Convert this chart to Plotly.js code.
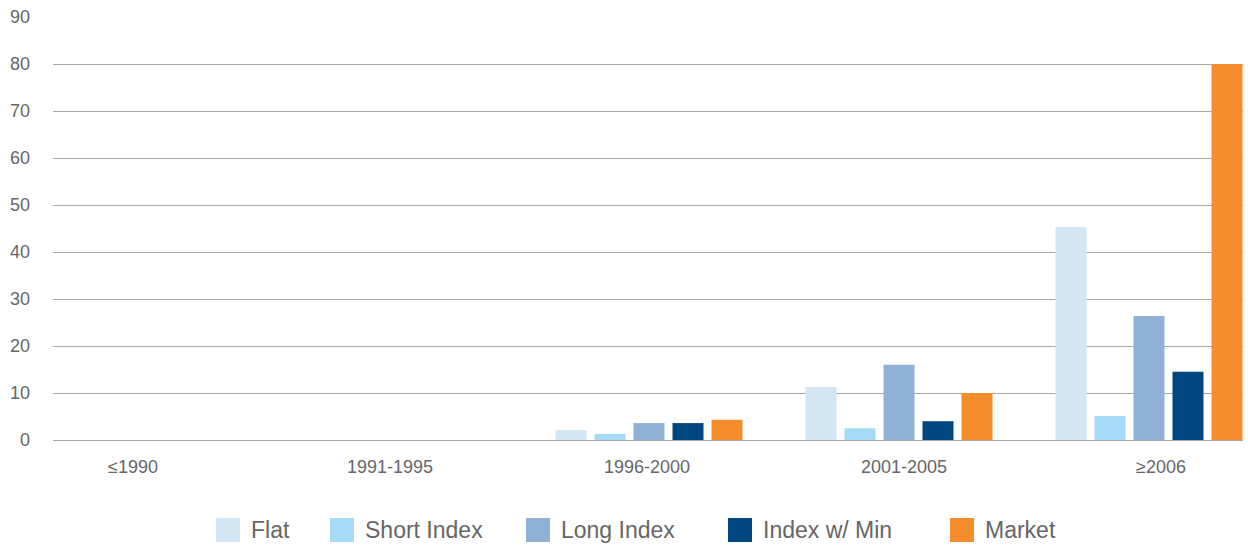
<!DOCTYPE html>
<html>
<head>
<meta charset="utf-8">
<script src="https://cdn.plot.ly/plotly-3.0.1.min.js"></script>
<style>html,body{margin:0;padding:0;background:#fff;}#chart{width:1248px;height:545px;}</style>
</head>
<body>
<div id="chart"></div>
<script>
const categories = ['≤1990', '1991-1995', '1996-2000', '2001-2005', '≥2006'];
const seriesNames = ['Flat', 'Short Index', 'Long Index', 'Index w/ Min', 'Market'];
const flat = [0, 0, 2.1, 11.3, 45.3];
const shortIndex = [0, 0, 1.3, 2.5, 5.1];
const longIndex = [0, 0, 3.6, 16, 26.4];
const indexWMin = [0, 0, 3.6, 4, 14.5];
const market = [0, 0, 4.3, 10, 80];
const yTicks = [0, 10, 20, 30, 40, 50, 60, 70, 80, 90];
const colors = ['#d2e7f3', '#a7daf6', '#91b0d6', '#004680', '#f68d2d'];

const seriesValues = [flat, shortIndex, longIndex, indexWMin, market];

const W = 1248, H = 545;
const M = {l: 53, r: 5, t: 17, b: 105};
const plotW = W - M.l - M.r, plotH = H - M.t - M.b;
const px2x = p => (p - M.l) / plotW;
const px2y = p => (H - M.b - p) / plotH;

const traces = seriesNames.map((name, i) => ({
  type: 'bar',
  name: name,
  x: categories,
  y: seriesValues[i],
  marker: {color: colors[i], line: {width: 0}},
  showlegend: false,
  hoverinfo: 'x+y+name'
}));
// empty helper trace so the label axis is drawn
traces.push({type: 'scatter', x: [], y: [], xaxis: 'x2', yaxis: 'y', showlegend: false, hoverinfo: 'skip'});

// Manual legend (large swatches)
const legendSwatchLeft = [216, 330, 526, 728, 950];
const shapes = [];
const annotations = [];
seriesNames.forEach((name, i) => {
  const x0 = legendSwatchLeft[i];
  shapes.push({
    type: 'rect', xref: 'paper', yref: 'paper',
    x0: px2x(x0), x1: px2x(x0 + 24),
    y0: px2y(542), y1: px2y(518),
    fillcolor: colors[i], line: {width: 0}, layer: 'above'
  });
  annotations.push({
    xref: 'paper', yref: 'paper',
    x: px2x(x0 + 33), y: px2y(530),
    xanchor: 'left', yanchor: 'middle',
    text: name, showarrow: false,
    font: {family: 'Liberation Sans, Arial, sans-serif', size: 23, color: '#666666'}
  });
});

const layout = {
  width: W, height: H,
  margin: M,
  paper_bgcolor: '#ffffff',
  plot_bgcolor: '#ffffff',
  barmode: 'group',
  bargap: 0.22,
  bargroupgap: 0.205,
  showlegend: false,
  font: {family: 'Liberation Sans, Arial, sans-serif', size: 18, color: '#666666'},
  xaxis: {
    type: 'category',
    range: [-0.384, 4.376],
    showgrid: false,
    zeroline: false,
    showline: false,
    ticks: '',
    showticklabels: false,
    automargin: false,
    fixedrange: true
  },
  xaxis2: {
    type: 'linear',
    overlaying: 'x',
    side: 'bottom',
    anchor: 'y',
    range: [-0.3113, 4.319],
    tickvals: categories.map((c, i) => i),
    ticktext: categories,
    showgrid: false,
    zeroline: false,
    showline: false,
    ticks: '',
    ticklabelstandoff: 14,
    tickfont: {size: 18, color: '#666666'},
    automargin: false,
    fixedrange: true
  },
  yaxis: {
    range: [0, 90],
    tickvals: yTicks,
    ticktext: yTicks.map(String),
    showgrid: true,
    gridcolor: '#a8a8a8',
    gridwidth: 1,
    zeroline: true,
    zerolinecolor: '#a8a8a8',
    zerolinewidth: 1,
    showline: false,
    ticks: '',
    ticklabelstandoff: 22,
    tickfont: {size: 18, color: '#666666'},
    automargin: false,
    fixedrange: true
  },
  shapes: shapes,
  annotations: annotations
};

Plotly.newPlot('chart', traces, layout, {displayModeBar: false, staticPlot: true});
</script>
</body>
</html>
